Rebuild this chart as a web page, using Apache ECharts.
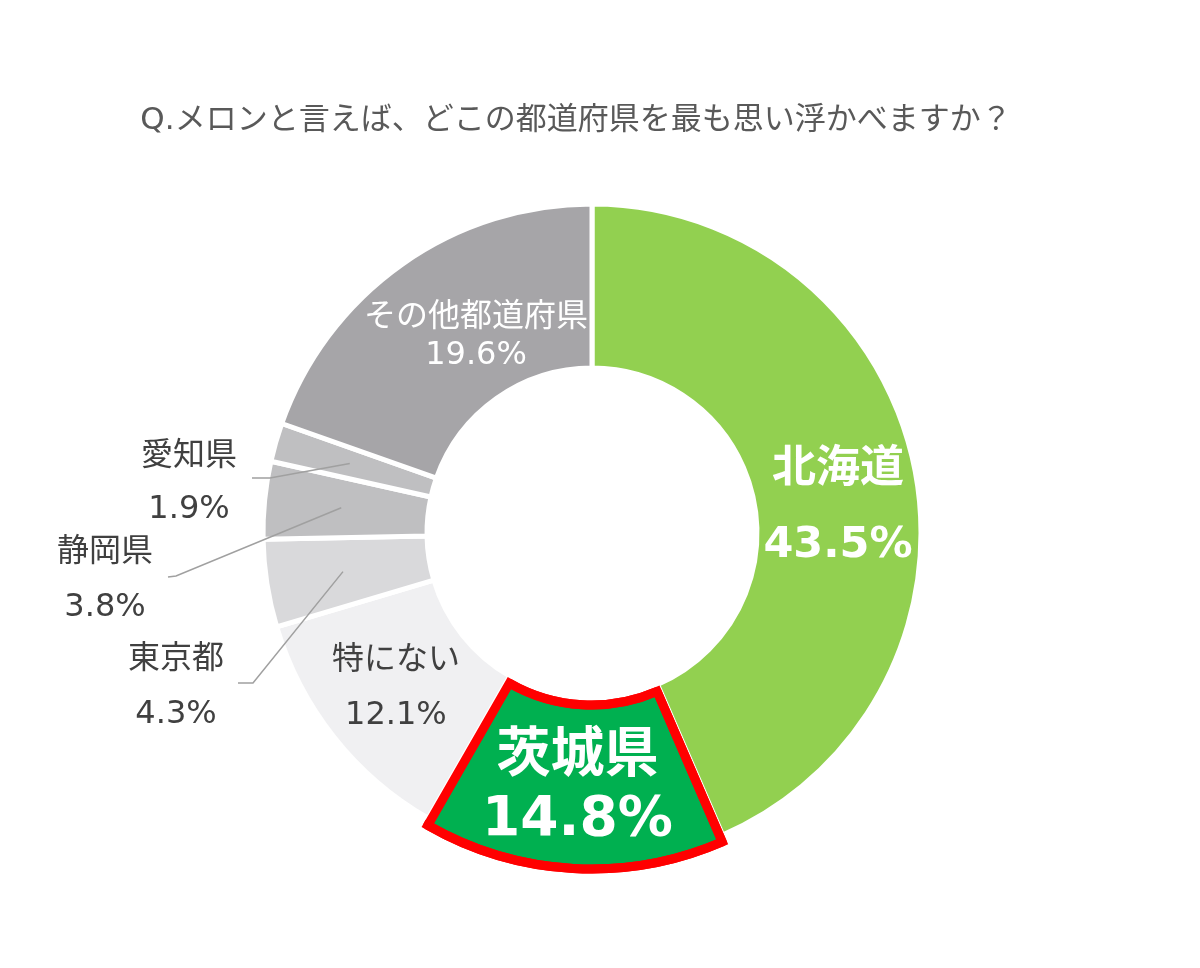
<!DOCTYPE html>
<html><head><meta charset="utf-8">
<script src="https://cdn.jsdelivr.net/npm/echarts/dist/echarts.min.js"></script>
<style>html,body{margin:0;padding:0;background:#fff}#c{width:1200px;height:968px}</style>
</head><body><div id="c"></div>
<script>
const titleText = 'Q.メロンと言えば、どこの都道府県を最も思い浮かべますか？';
const categories = ['北海道','茨城県','特にない','東京都','静岡県','愛知県','その他都道府県'];
const values = [43.5, 14.8, 12.1, 4.3, 3.8, 1.9, 19.6];
const valueLabels = ['43.5%','14.8%','12.1%','4.3%','3.8%','1.9%','19.6%'];

const colors = ['#92D050','#00B050','#F0F0F2','#D9D9DB','#BFBFC1','#BFBFC1','#A6A5A8'];
const FONT = "'DejaVu Sans','Noto Sans CJK JP',sans-serif";
const cx = 592, cy = 533, rIn = 165, rOut = 329;
const highlightIndex = 1;

const labelStyles = [
  {n:{fontSize:44,fontWeight:'bold',color:'#fff',lineHeight:75}, v:{fontSize:43,fontWeight:'bold',color:'#fff',lineHeight:75}},
  {n:{fontSize:54,fontWeight:'bold',color:'#fff',lineHeight:63}, v:{fontSize:55,fontWeight:'bold',color:'#fff',lineHeight:63}},
  {n:{fontSize:32,color:'#404040',lineHeight:55}, v:{fontSize:32,color:'#404040',lineHeight:55}},
  {n:{fontSize:32,color:'#404040',lineHeight:55}, v:{fontSize:32,color:'#404040',lineHeight:55}},
  {n:{fontSize:32,color:'#404040',lineHeight:55}, v:{fontSize:32,color:'#404040',lineHeight:55}},
  {n:{fontSize:32,color:'#404040',lineHeight:53}, v:{fontSize:32,color:'#404040',lineHeight:53}},
  {n:{fontSize:32,color:'#fff',lineHeight:38}, v:{fontSize:32,color:'#fff',lineHeight:38}}
];
const labelPositions = ['inside','inside','inside','outside','outside','outside','inside'];
const labelAnchors = {0:[838,508], 3:[176,687], 4:[105,580], 5:[189,483], 6:[476,337]};
const lineStarts = {3:[[238,683],[253,683]], 4:[[168,577],[176,576]], 5:[[252,478],[270,478]]};

const total = values.reduce((a,b)=>a+b,0);
function midAngle(i){ let s=0; for(let k=0;k<i;k++) s+=values[k]; return (s+values[i]/2)/total*360; }
function ringPoint(i,r){ const a=midAngle(i)*Math.PI/180; return [cx+r*Math.sin(a), cy-r*Math.cos(a)]; }

const baseData = categories.map((name,i)=>({
  name, value: values[i], selected: i===highlightIndex,
  itemStyle: i===highlightIndex ? {color:colors[i], borderColor:'#FF0000', borderWidth:9} : {color:colors[i], borderColor:'#ffffff', borderWidth:5}
}));
const overlayData = categories.map((name,i)=>({
  name, value: values[i], selected: i===highlightIndex,
  itemStyle: i===highlightIndex ? {color:'rgba(0,0,0,0)', borderColor:'#FF0000', borderWidth:9, borderJoin:'miter'} : {color:'rgba(0,0,0,0)', borderWidth:0},
  label: {
    show:true, position: labelPositions[i],
    formatter: '{n|'+name+'}\n{v|'+valueLabels[i]+'}',
    rich: {n: Object.assign({fontFamily:FONT,align:'center'}, labelStyles[i].n), v: Object.assign({fontFamily:FONT,align:'center'}, labelStyles[i].v)}
  },
  labelLine: {show:false}
}));

const leaderLines = Object.keys(lineStarts).map(k=>{
  const i = +k;
  return {type:'polyline', z:100, silent:true,
    shape:{points:[lineStarts[i][0], lineStarts[i][1], ringPoint(i,252)]},
    style:{stroke:'#A0A0A0', lineWidth:1.5, fill:null}};
});

const chart = echarts.init(document.getElementById('c'));
chart.setOption({
  animation:false,
  backgroundColor:'#ffffff',
  graphic:[{type:'text', x:576, y:121, style:{text:titleText, fill:'#595959', font:'31px '+FONT, textAlign:'center', textVerticalAlign:'middle'}}].concat(leaderLines),
  series:[
    {type:'pie', center:[cx,cy], radius:[rIn,rOut], startAngle:90, clockwise:true, silent:true,
     selectedMode:'single', selectedOffset:7, emphasis:{disabled:true},
     label:{show:false}, labelLine:{show:false}, data: baseData},
    {type:'pie', center:[cx,cy], radius:[rIn,rOut], startAngle:90, clockwise:true, silent:true,
     selectedMode:'single', selectedOffset:7, avoidLabelOverlap:false, emphasis:{disabled:true},
     labelLayout: function(params){
       const i = params.dataIndex, a = labelAnchors[i];
       if(!a) return {};
       return {x:a[0], y:a[1], align:'center', verticalAlign:'middle'};
     },
     data: overlayData}
  ]
});
</script></body></html>
